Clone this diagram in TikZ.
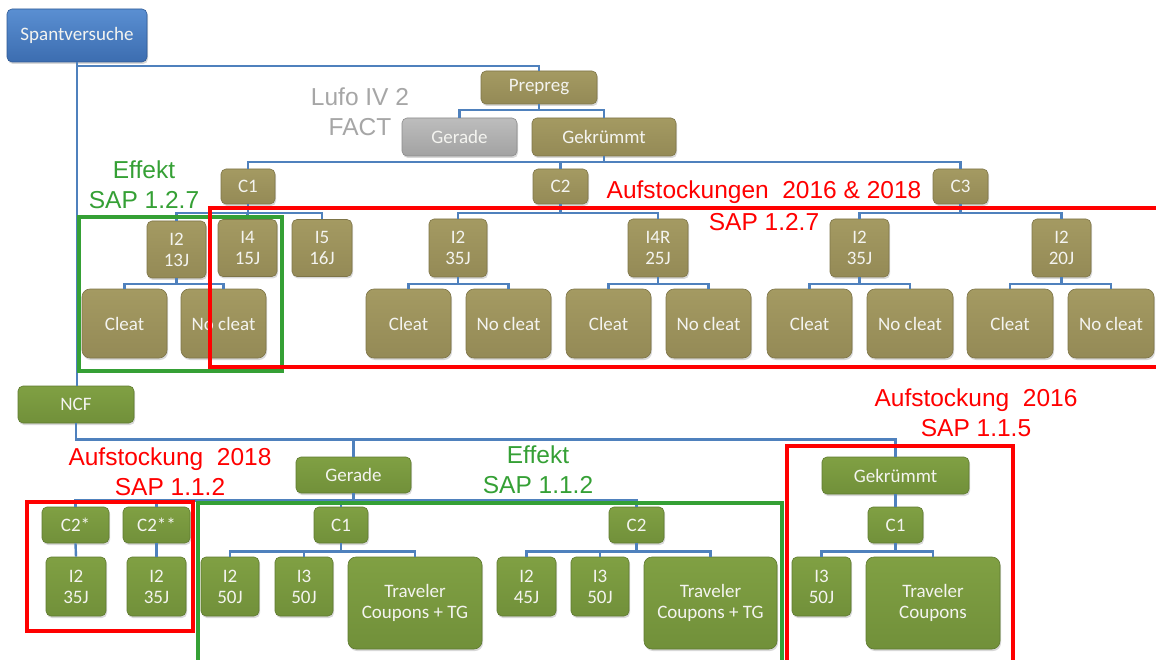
\documentclass[tikz,border=0pt]{standalone}
\usepackage{fontspec}
\setmainfont{Carlito}
\newfontfamily\arialf{Liberation Sans}
\usetikzlibrary{shadows}
\definecolor{olT}{HTML}{A49A62}
\definecolor{olB}{HTML}{948A56}
\definecolor{olD}{HTML}{7E7548}
\definecolor{grT}{HTML}{80A043}
\definecolor{grB}{HTML}{71903A}
\definecolor{grD}{HTML}{5E7A30}
\definecolor{gyT}{HTML}{BDBDBD}
\definecolor{gyB}{HTML}{A2A2A2}
\definecolor{gyD}{HTML}{8C8C8C}
\definecolor{blT}{HTML}{5A8FD2}
\definecolor{blB}{HTML}{3C6DB0}
\definecolor{blD}{HTML}{2F5A95}
\definecolor{conncol}{HTML}{4F81BD}
\definecolor{frgreen}{HTML}{35A035}
\definecolor{txgreen}{HTML}{35A035}
\definecolor{txgray}{HTML}{A6A6A6}
\definecolor{boxtext}{HTML}{F4F4F0}
\tikzset{
  base/.style={rectangle, rounded corners=5pt, inner sep=0pt, text=boxtext,
    font=\fontsize{19}{21}\selectfont, align=center, line width=0.6pt,
    drop shadow={shadow xshift=1pt, shadow yshift=-2pt, opacity=0.3}},
  ol/.style={base, top color=olT, bottom color=olB, draw=olD},
  gr/.style={base, top color=grT, bottom color=grB, draw=grD},
  gy/.style={base, top color=gyT, bottom color=gyB, draw=gyD},
  bl/.style={base, top color=blT, bottom color=blB, draw=blD},
  big/.style={rounded corners=8pt},
  conn/.style={draw=conncol, line width=2.4pt},
  redframe/.style={draw=red, line width=4pt},
  greenframe/.style={draw=frgreen, line width=3.5pt},
  annot/.style={font=\arialf\fontsize{24.5}{30}\selectfont, align=center, inner sep=0pt},
}
\newcommand{\bx}[7]{\node[#1, minimum width=#5, minimum height=#6] (#2) at (#3,#4) {#7};}
\begin{document}
\begin{tikzpicture}[x=1pt,y=-1pt]
\useasboundingbox (0,0) rectangle (1156,660);
\clip (0,0) rectangle (1156,660);
\fill[white] (0,0) rectangle (1156,660);
% top tree
\bx{bl}{span}{77}{35.5}{140}{53}{Spantversuche}
\bx{ol}{prepreg}{539}{87.5}{116}{33}{Prepreg}
\bx{gy}{geradeT}{459.5}{137}{115}{38}{Gerade}
\bx{ol}{gekT}{604}{137}{144}{38}{Gekrümmt}
\bx{ol}{c1T}{248}{186.5}{54}{35}{C1}
\bx{ol}{c2T}{560.5}{186.5}{55}{35}{C2}
\bx{ol}{c3T}{960.5}{186.5}{55}{35}{C3}
\bx{ol}{i2a}{176.5}{249.5}{59}{57}{I2\\13J}
\bx{ol}{i4}{247.5}{248}{59}{57}{I4\\15J}
\bx{ol}{i5}{322}{248}{60}{57}{I5\\16J}
\bx{ol}{i2b}{458}{248}{58}{58}{I2\\35J}
\bx{ol}{i4r}{658}{248}{60}{58}{I4R\\25J}
\bx{ol}{i2c}{859.5}{248}{59}{58}{I2\\35J}
\bx{ol}{i2d}{1061.5}{248}{59}{58}{I2\\20J}
\bx{ol,big}{cl1}{124.5}{323.5}{85}{69}{Cleat}
\bx{ol,big}{nc1}{223.5}{323.5}{85}{69}{No cleat}
\bx{ol,big}{cl2}{408.5}{323.5}{85}{69}{Cleat}
\bx{ol,big}{nc2}{508.5}{323.5}{85}{69}{No cleat}
\bx{ol,big}{cl3}{608.5}{323.5}{85}{69}{Cleat}
\bx{ol,big}{nc3}{708.5}{323.5}{85}{69}{No cleat}
\bx{ol,big}{cl4}{809.5}{323.5}{85}{69}{Cleat}
\bx{ol,big}{nc4}{910}{323.5}{86}{69}{No cleat}
\bx{ol,big}{cl5}{1010}{323.5}{86}{69}{Cleat}
\bx{ol,big}{nc5}{1111}{323.5}{86}{69}{No cleat}
% bottom tree
\bx{gr}{ncf}{76}{404.5}{116}{37}{NCF}
\bx{gr}{geradeB}{353.5}{475}{115}{36}{Gerade}
\bx{gr}{gekB}{895.5}{475.5}{147}{37}{Gekrümmt}
\bx{gr}{c2s}{75.5}{525}{67}{36}{C2*}
\bx{gr}{c2ss}{156.5}{525}{67}{36}{C2**}
\bx{gr}{c1B}{341}{525}{54}{36}{C1}
\bx{gr}{c2B}{636.5}{525}{55}{36}{C2}
\bx{gr}{c1R}{895.5}{525}{55}{36}{C1}
\bx{gr}{i2s}{76}{586.5}{60}{59}{I2\\35J}
\bx{gr}{i2ss}{156.5}{586.5}{59}{59}{I2\\35J}
\bx{gr}{i2f}{230}{586.5}{58}{59}{I2\\50J}
\bx{gr}{i3f}{304}{586.5}{58}{59}{I3\\50J}
\bx{gr,big}{trav1}{415}{603}{134}{92}{Traveler\\Coupons + TG}
\bx{gr}{i2g}{526.5}{586.5}{59}{59}{I2\\45J}
\bx{gr}{i3g}{600}{586.5}{58}{59}{I3\\50J}
\bx{gr,big}{trav2}{710.5}{603}{133}{92}{Traveler\\Coupons + TG}
\bx{gr}{i3h}{821.5}{586.5}{59}{59}{I3\\50J}
\bx{gr,big}{trav3}{933}{603}{134}{92}{Traveler\\Coupons}
% connectors
\draw[conn] (span.south) -- ++(0,4) -| (prepreg.north);
\draw[conn] (span.south) -- (span.south |- ncf.north);
\foreach \c in {geradeT,gekT} \draw[conn] (prepreg.south) -- ++(0,6) -| (\c.north);
\foreach \c in {c1T,c2T,c3T} \draw[conn] (gekT.south) -- ++(0,6) -| (\c.north);
\foreach \c in {i2a,i4,i5} \draw[conn] (c1T.south) -- ++(0,8.5) -| (\c.north);
\foreach \c in {i2b,i4r} \draw[conn] (c2T.south) -- ++(0,8.5) -| (\c.north);
\foreach \c in {i2c,i2d} \draw[conn] (c3T.south) -- ++(0,8.5) -| (\c.north);
\foreach \c in {cl1,nc1} \draw[conn] (i2a.south) -- ++(0,5.5) -| (\c.north);
\foreach \c in {cl2,nc2} \draw[conn] (i2b.south) -- ++(0,7) -| (\c.north);
\foreach \c in {cl3,nc3} \draw[conn] (i4r.south) -- ++(0,7) -| (\c.north);
\foreach \c in {cl4,nc4} \draw[conn] (i2c.south) -- ++(0,7) -| (\c.north);
\foreach \c in {cl5,nc5} \draw[conn] (i2d.south) -- ++(0,7) -| (\c.north);
\foreach \c in {geradeB,gekB} \draw[conn] (ncf.south) -- ++(0,16) -| (\c.north);
\foreach \c in {c2s,c2ss,c1B,c2B} \draw[conn] (geradeB.south) -- ++(0,7) -| (\c.north);
\draw[conn] (c2s.south) -- (i2s.north);
\draw[conn] (c2ss.south) -- (i2ss.north);
\draw[conn] (gekB.south) -- (c1R.north);
\foreach \c in {i2f,i3f,trav1} \draw[conn] (c1B.south) -- ++(0,8) -| (\c.north);
\foreach \c in {i2g,i3g,trav2} \draw[conn] (c2B.south) -- ++(0,8) -| (\c.north);
\foreach \c in {i3h,trav3} \draw[conn] (c1R.south) -- ++(0,8) -| (\c.north);
% frames
\draw[greenframe] (79,217) rectangle (282,371);
\draw[redframe] (210,208) rectangle (1165,367);
\draw[redframe] (27,502) rectangle (193,631);
\draw[greenframe] (198,503) rectangle (782,670);
\draw[redframe] (787,446) rectangle (1013,670);
% annotations
\node[annot, text=txgray] (lufo) at (360,112) {Lufo IV 2\\FACT};
\node[annot, text=txgreen] (eff1) at (144,185) {Effekt\\SAP 1.2.7};
\node[annot, text=red, font=\arialf\fontsize{24.5}{32}\selectfont] (auf1) at (764,206) {Aufstockungen\ \ 2016 \& 2018\\SAP 1.2.7};
\node[annot, text=red] (auf2) at (170,472) {Aufstockung\ \ 2018\\SAP 1.1.2};
\node[annot, text=txgreen] (eff2) at (538,470) {Effekt\\SAP 1.1.2};
\node[annot, text=red] (auf3) at (976,413) {Aufstockung\ \ 2016\\SAP 1.1.5};
\end{tikzpicture}
\end{document}
